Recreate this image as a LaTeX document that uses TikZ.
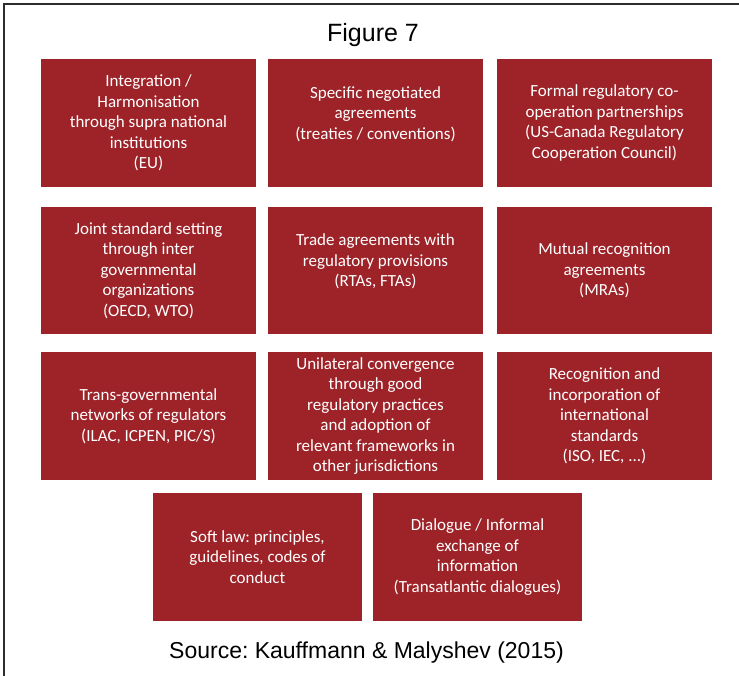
\documentclass[tikz,border=0pt]{standalone}
\usepackage{fontspec}
\setmainfont{Liberation Sans}
\newfontfamily\boxfont{Carlito}
\usepackage{tikz}
\definecolor{BoxRed}{RGB}{157,35,41}
\definecolor{FrameGray}{RGB}{45,45,45}
\frenchspacing

\begin{document}
\begin{tikzpicture}[x=1pt,y=-1pt,
  box/.style={fill=BoxRed, text=white, align=center, inner sep=0pt,
    minimum width=215pt, minimum height=128pt,
    font=\boxfont\fontsize{17}{20.5}\selectfont},
  lowbox/.style={box, minimum width=209pt}]
\useasboundingbox (0,0) rectangle (739,676);
%
\draw[line width=2pt, FrameGray] (4,676) -- (4,4) -- (739,4);
%
\node[font=\fontsize{25}{30}\selectfont, anchor=base] (title) at (373,42) {Figure 7};
%
\node[box] (integration) at (148.5,123) {Integration /\\ Harmonisation\\ through supra national\\ institutions\\ (EU)};
\node[box] (specific) at (375.5,123) {Specific negotiated\\ agreements\\ (treaties / conventions)\\ \mbox{}};
\node[box] (formal) at (604.5,123) {Formal regulatory co-\\ operation partnerships\\ (US-Canada Regulatory\\ Cooperation Council)};
%
\node[box, minimum height=127pt] (joint) at (148.5,270.5) {Joint standard setting\\ through inter\\ governmental\\ organizations\\ (OECD, WTO)};
\node[box, minimum height=127pt] (trade) at (375.5,270.5) {Trade agreements with\\ regulatory provisions\\ (RTAs, FTAs)\\ \mbox{}};
\node[box, minimum height=127pt] (mutual) at (604.5,270.5) {Mutual recognition\\ agreements\\ (MRAs)};
%
\node[box] (transgov) at (148.5,416) {Trans-governmental\\ networks of regulators\\ (ILAC, ICPEN, PIC/S)};
\node[box] (unilateral) at (375.5,416) {Unilateral convergence\\ through good\\ regulatory practices\\ and adoption of\\ relevant frameworks in\\ other jurisdictions};
\node[box] (standards) at (604.5,416) {Recognition and\\ incorporation of\\ international\\ standards\\ (ISO, IEC, ...)};
%
\node[lowbox] (softlaw) at (257.5,557) {Soft law: principles,\\ guidelines, codes of\\ conduct};
\node[lowbox] (dialogue) at (477.5,557) {Dialogue / Informal\\ exchange of\\ information\\ (Transatlantic dialogues)};
%
\node[font=\fontsize{23}{28}\selectfont, anchor=base] (source) at (366.5,658) {Source: Kauffmann \& Malyshev (2015)};
\end{tikzpicture}
\end{document}
